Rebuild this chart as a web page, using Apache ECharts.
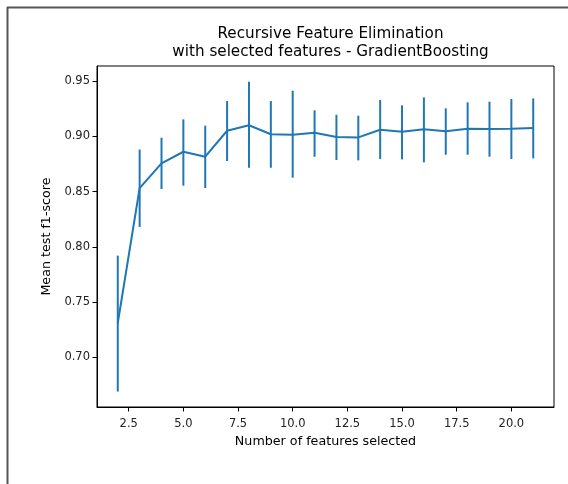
<!DOCTYPE html>
<html>
<head>
<meta charset="utf-8">
<script src="https://cdn.jsdelivr.net/npm/echarts@6/dist/echarts.min.js"></script>
<style>
html,body{margin:0;padding:0;background:#fff;}
#chart{width:568px;height:484px;}
</style>
</head>
<body>
<div id="chart"></div>
<script>
var nFeatures = [2,3,4,5,6,7,8,9,10,11,12,13,14,15,16,17,18,19,20,21];
var meanScore = [0.731,0.853,0.8755,0.886,0.8815,0.905,0.910,0.9018,0.9014,0.9032,0.8993,0.899,0.9059,0.9041,0.9063,0.9045,0.9068,0.9066,0.9068,0.9075];
var errLow   = [0.669,0.818,0.8523,0.8553,0.8532,0.8776,0.8715,0.8715,0.8625,0.8815,0.8785,0.8782,0.8794,0.8791,0.8764,0.8833,0.8833,0.8815,0.8794,0.880];
var errHigh  = [0.792,0.888,0.8987,0.9153,0.9096,0.9319,0.9494,0.9319,0.9412,0.9235,0.9195,0.9186,0.9328,0.928,0.9352,0.9253,0.9307,0.9313,0.9337,0.9343];
var xTicks = [2.5,5.0,7.5,10.0,12.5,15.0,17.5,20.0];
var yTicks = [0.70,0.75,0.80,0.85,0.90,0.95];

var lineData = nFeatures.map(function(x,i){return [x, meanScore[i]];});
var errData = nFeatures.map(function(x,i){return [x, errLow[i], errHigh[i]];});

var font = 'DejaVu Sans';
var chart = echarts.init(document.getElementById('chart'));
chart.setOption({
  animation:false,
  backgroundColor:'#fff',
  title:{
    text:'Recursive Feature Elimination\nwith selected features - GradientBoosting',
    left:325.5, textAlign:'center', top:20,
    textStyle:{fontFamily:font,fontSize:15.2,fontWeight:'normal',color:'#000',lineHeight:18}
  },
  grid:{left:97,right:14,top:66,bottom:77,show:true,borderColor:'#000',borderWidth:1,backgroundColor:'transparent'},
  xAxis:{
    type:'value',min:1.05,max:21.95,
    name:'Number of features selected',nameLocation:'middle',nameGap:27,
    nameTextStyle:{fontFamily:font,fontSize:12.7,color:'#000'},
    axisLine:{show:true,onZero:false,lineStyle:{color:'#000',width:1}},
    axisTick:{show:true,length:4.5,customValues:xTicks,lineStyle:{color:'#000'}},
    axisLabel:{customValues:xTicks,fontFamily:font,fontSize:11.5,color:'#222',margin:11,
      formatter:function(v){return v.toFixed(1);}},
    splitLine:{show:false}
  },
  yAxis:{
    type:'value',min:0.655,max:0.9636,
    name:'Mean test f1-score',nameLocation:'middle',nameGap:43,
    nameTextStyle:{fontFamily:font,fontSize:12.7,color:'#000'},
    axisLine:{show:true,onZero:false,lineStyle:{color:'#000',width:1}},
    axisTick:{show:true,length:4.5,customValues:yTicks,lineStyle:{color:'#000'}},
    axisLabel:{customValues:yTicks,fontFamily:font,fontSize:11.5,color:'#222',margin:7,
      formatter:function(v){return v.toFixed(2);}},
    splitLine:{show:false}
  },
  series:[
    {
      type:'custom',
      data:errData,
      encode:{x:0,y:[1,2]},
      renderItem:function(params,api){
        var x = api.value(0);
        var lo = api.coord([x, api.value(1)]);
        var hi = api.coord([x, api.value(2)]);
        return {type:'line',shape:{x1:lo[0],y1:lo[1],x2:hi[0],y2:hi[1]},
          style:{stroke:'#1f77b4',lineWidth:2}};
      },
      z:2
    },
    {
      type:'line',
      data:lineData,
      symbol:'none',
      lineStyle:{color:'#1f77b4',width:2},
      z:3
    }
  ],
  graphic:[
    {type:'line',shape:{x1:7,y1:7.5,x2:568,y2:7.5},style:{stroke:'#555',lineWidth:2},silent:true},
    {type:'line',shape:{x1:7.5,y1:7,x2:7.5,y2:484},style:{stroke:'#555',lineWidth:2},silent:true}
  ]
});
</script>
</body>
</html>
